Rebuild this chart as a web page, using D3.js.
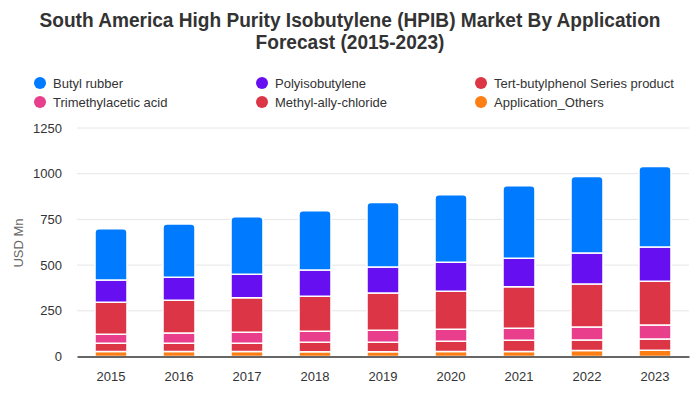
<!DOCTYPE html>
<html><head><meta charset="utf-8">
<script src="https://cdn.jsdelivr.net/npm/d3@7"></script>
<style>body{margin:0;background:#fff;} svg text{font-family:"Liberation Sans",Arial,sans-serif;}</style>
</head><body><svg id="c" width="700" height="400"></svg>
<script>
const years = ["2015","2016","2017","2018","2019","2020","2021","2022","2023"];
const others = [28,28,28,26,26,28,28,33,34];
const methyl = [44,44,44,52,52,55,61,57,62];
const trimethyl = [50,56,61,60,66,66,66,72,77];
const tertButyl = [175,180,188,192,203,208,226,234,239];
const polyiso = [121,126,129,143,142,159,157,170,187];
const butyl = [281,291,314,324,353,369,396,418,440];
const yTicks = [0,250,500,750,1000,1250];

const series = [
  {name:"Application_Others", values:others, color:"#fd7e14"},
  {name:"Methyl-ally-chloride", values:methyl, color:"#dc3545"},
  {name:"Trimethylacetic acid", values:trimethyl, color:"#e83e8c"},
  {name:"Tert-butylphenol Series product", values:tertButyl, color:"#dc3545"},
  {name:"Polyisobutylene", values:polyiso, color:"#6610f2"},
  {name:"Butyl rubber", values:butyl, color:"#007bff"}
];
const legendOrder = ["Butyl rubber","Polyisobutylene","Tert-butylphenol Series product","Trimethylacetic acid","Methyl-ally-chloride","Application_Others"];

const svg = d3.select("#c");
const m = {l:77, r:689, t:128, b:356.5};
const x = d3.scaleBand().domain(years).range([m.l, m.r]).paddingInner(0.53).paddingOuter(0.265);
const y = d3.scaleLinear().domain([0,1250]).range([m.b, m.t]);

// title (condensed bold)
const t1 = svg.append("text").attr("x",350).attr("y",27).attr("text-anchor","middle")
  .attr("font-size",20).attr("font-weight","bold").attr("fill","#333")
  .text("South America High Purity Isobutylene (HPIB) Market By Application");
const t2 = svg.append("text").attr("x",350).attr("y",49).attr("text-anchor","middle")
  .attr("font-size",20).attr("font-weight","bold").attr("fill","#333")
  .text("Forecast (2015-2023)");
const k = 621 / t1.node().getComputedTextLength();
t1.attr("textLength",621).attr("lengthAdjust","spacingAndGlyphs");
t2.attr("textLength",t2.node().getComputedTextLength()*k).attr("lengthAdjust","spacingAndGlyphs");

// legend
const colX = [40,262,481];
legendOrder.forEach((n,i)=>{
  const s = series.find(d=>d.name===n);
  const cx = colX[i%3], cy = 83 + Math.floor(i/3)*19;
  svg.append("circle").attr("cx",cx).attr("cy",cy).attr("r",6).attr("fill",s.color);
  svg.append("text").attr("x",cx+13).attr("y",cy+4.5).attr("font-size",13).attr("fill","#333").text(n);
});

// grid
svg.append("g").selectAll("line").data(yTicks.filter(d=>d>0)).join("line")
  .attr("x1",m.l).attr("x2",m.r).attr("y1",d=>y(d)).attr("y2",d=>y(d))
  .attr("stroke","#e6e6e6").attr("stroke-width",1);

// y axis labels
const ya = svg.append("g").attr("transform",`translate(${m.l},0)`)
  .call(d3.axisLeft(y).tickValues(yTicks).tickFormat(d3.format("d")).tickSize(0).tickPadding(15));
ya.select(".domain").remove();
ya.selectAll("text").attr("font-size",13).attr("fill","#333");

svg.append("text").attr("transform","translate(23,243) rotate(-90)").attr("text-anchor","middle")
  .attr("font-size",13).attr("fill","#666").text("USD Mn");

// stacks
const stackData = years.map((yr,i)=>{const o={year:yr}; series.forEach(s=>o[s.name]=s.values[i]); return o;});
const stacked = d3.stack().keys(series.map(s=>s.name))(stackData);
const r = 4;
stacked.forEach((layer,li)=>{
  const col = series[li].color;
  const top = li===stacked.length-1;
  svg.append("g").selectAll("path").data(layer).join("path")
    .attr("fill",col).attr("stroke","#fff").attr("stroke-width",1.5)
    .attr("d",d=>{
      const x0=x(d.data.year), w=x.bandwidth(), y0=y(d[0]), y1=y(d[1]);
      if(!top) return `M${x0},${y0}V${y1}H${x0+w}V${y0}Z`;
      return `M${x0},${y0}V${y1+r}Q${x0},${y1} ${x0+r},${y1}H${x0+w-r}Q${x0+w},${y1} ${x0+w},${y1+r}V${y0}Z`;
    });
});

// x axis
const xa = svg.append("g").attr("transform",`translate(0,${m.b})`)
  .call(d3.axisBottom(x).tickSize(0).tickPadding(15));
xa.select(".domain").attr("stroke","#333").attr("stroke-width",1.5);
xa.selectAll("text").attr("font-size",13).attr("fill","#333");
</script></body></html>
